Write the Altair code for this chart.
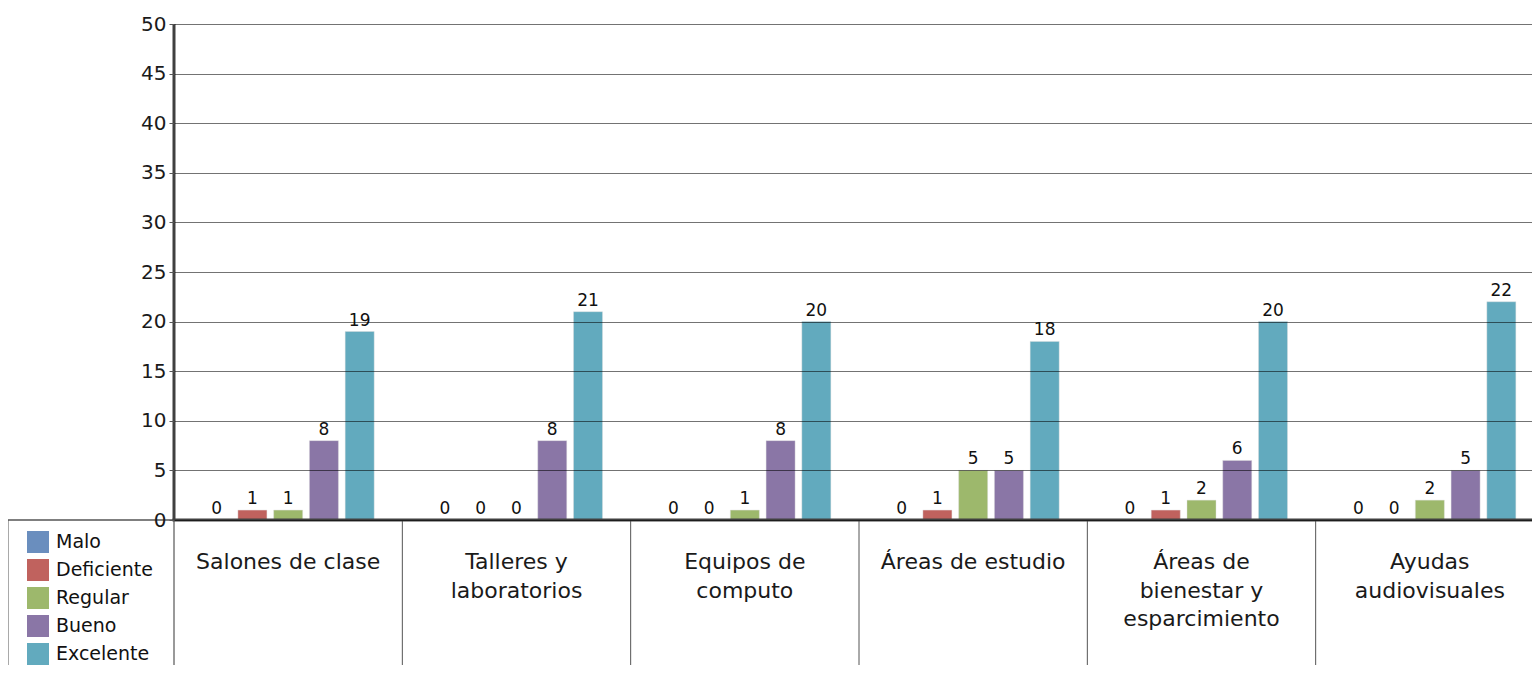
import altair as alt
import pandas as pd

categories = ["Salones de clase", "Talleres y laboratorios", "Equipos de computo",
              "Áreas de estudio", "Áreas de bienestar y esparcimiento", "Ayudas audiovisuales"]
category_labels = ["Salones de clase", "Talleres y\nlaboratorios", "Equipos de\ncomputo",
                   "Áreas de estudio", "Áreas de\nbienestar y\nesparcimiento", "Ayudas\naudiovisuales"]
series = ["Malo", "Deficiente", "Regular", "Bueno", "Excelente"]
colors = ["#6A8EBE", "#C0625E", "#9DB86C", "#8A76A6", "#62AABE"]
malo = [0, 0, 0, 0, 0, 0]
deficiente = [1, 0, 0, 1, 1, 0]
regular = [1, 0, 1, 5, 2, 2]
bueno = [8, 8, 8, 5, 6, 5]
excelente = [19, 21, 20, 18, 20, 22]
y_ticks = [0, 5, 10, 15, 20, 25, 30, 35, 40, 45, 50]

values = [malo, deficiente, regular, bueno, excelente]
rows = []
for s, vals in zip(series, values):
    for c, v in zip(categories, vals):
        rows.append({"cat": c, "serie": s, "valor": v})
df = pd.DataFrame(rows)
df_cats = pd.DataFrame({"cat": categories, "label": category_labels})
df_sep = df_cats.iloc[1:]
one = df_cats.iloc[:1]

FONT = "DejaVu Sans"
W = 1358          # visible plot width (svg must stay within the page body)
FULL_W = 1370     # full width of the six category cells (last one runs off the page)
H = 641
px_per_unit = 496 / 50
ymin = -(H - 496) / px_per_unit

xscale = alt.Scale(domain=categories, paddingInner=0, paddingOuter=0, range=[0, FULL_W])
X = alt.X("cat:N", scale=xscale, axis=None, sort=categories)
yscale = alt.Scale(domain=[ymin, 50], nice=False, zero=False)
offscale = alt.Scale(domain=series, paddingInner=0.189, paddingOuter=0.7875)

base = alt.Chart(df)

bars = base.mark_bar(stroke="#dddddd", strokeWidth=0.6, strokeOpacity=0.7).encode(
    x=X,
    xOffset=alt.XOffset("serie:N", sort=series, scale=offscale),
    y=alt.Y("valor:Q", scale=yscale,
            axis=alt.Axis(values=y_ticks, title=None, grid=True, gridColor="#000000",
                          gridOpacity=0.55, gridWidth=1, domain=False,
                          tickColor="#555555", tickSize=5, tickWidth=1,
                          labelFontSize=20, labelFont=FONT, labelColor="#1a1a1a",
                          labelPadding=3, zindex=1)),
    y2=alt.datum(0),
    color=alt.Color("serie:N", sort=series,
                    scale=alt.Scale(domain=series, range=colors),
                    legend=alt.Legend(title=None, orient="none", legendX=-147, legendY=507,
                                      symbolType="square", symbolSize=484, symbolStrokeWidth=0,
                                      labelFontSize=19, labelFont=FONT,
                                      labelColor="#111111", labelOffset=7, rowPadding=6,
                                      symbolOpacity=1)),
)

labels = base.mark_text(baseline="bottom", dy=-2, fontSize=17, font=FONT,
                        color="#111111").encode(
    x=X,
    xOffset=alt.XOffset("serie:N", sort=series, scale=offscale),
    y=alt.Y("valor:Q", scale=yscale),
    text="valor:Q",
)

seps = alt.Chart(df_sep).mark_rule(color="#555555", strokeWidth=1).encode(
    x=alt.X("cat:N", scale=xscale, axis=None, sort=categories, bandPosition=0),
    y=alt.Y(datum=0, scale=yscale),
    y2=alt.value(H),
)

# thin table borders: left edge, and the y-axis continuation below zero
left_border = alt.Chart(one).mark_rule(color="#555555", strokeWidth=1).encode(
    x=alt.value(-166), y=alt.Y(datum=0, scale=yscale), y2=alt.value(H),
)
axis_below = alt.Chart(one).mark_rule(color="#777777", strokeWidth=1.5).encode(
    x=alt.value(0), y=alt.Y(datum=0, scale=yscale), y2=alt.value(H),
)
# thick y-axis line over the value range
axis_y = alt.Chart(one).mark_rule(color="#404040", strokeWidth=3).encode(
    x=alt.value(0), y=alt.Y(datum=0, scale=yscale), y2=alt.datum(50),
)

left_line = alt.Chart(one).mark_rule(color="#555555", strokeWidth=1.5).encode(
    y=alt.Y(datum=0, scale=yscale),
    x=alt.value(-166),
    x2=alt.value(0),
)
axis_line = alt.Chart(one).mark_rule(color="#404040", strokeWidth=3).encode(
    y=alt.Y(datum=0, scale=yscale),
    x=alt.value(-1.5),
    x2=alt.value(W),
)

cat_text = alt.Chart(df_cats).mark_text(baseline="top", align="center", fontSize=22,
                                        font=FONT, color="#1a1a1a",
                                        lineBreak="\n", lineHeight=28.5, dy=32).encode(
    x=alt.X("cat:N", scale=xscale, axis=None, sort=categories),
    y=alt.Y(datum=0, scale=yscale),
    text="label:N",
)

chart = alt.layer(bars, labels, seps, left_border, axis_below, axis_y, left_line,
                  axis_line, cat_text).properties(
    width=W, height=H,
    autosize=alt.AutoSizeParams(type="none"),
    padding={"left": 166, "top": 16, "right": 0, "bottom": 0},
).configure_view(stroke=None)

chart.save("out.html", embed_options={"renderer": "svg", "actions": False})
